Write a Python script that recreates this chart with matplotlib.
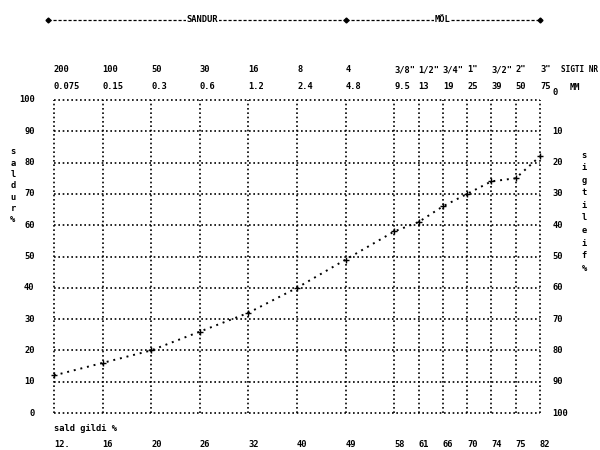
import numpy as np
import matplotlib
matplotlib.use("Agg")
import matplotlib.pyplot as plt
import matplotlib.transforms as mtransforms

# ---- data ----
sieve_nr = ["200", "100", "50", "30", "16", "8", "4",
            '3/8"', '1/2"', '3/4"', '1"', '3/2"', '2"', '3"']
sieve_mm = ["0.075", "0.15", "0.3", "0.6", "1.2", "2.4", "4.8",
            "9.5", "13", "19", "25", "39", "50", "75"]
passing = [12, 16, 20, 26, 32, 40, 49, 58, 61, 66, 70, 74, 75, 82]
bottom_labels = ["12.", "16", "20", "26", "32", "40", "49",
                 "58", "61", "66", "70", "74", "75", "82"]
left_ticks = [0, 10, 20, 30, 40, 50, 60, 70, 80, 90, 100]

FONT = "DejaVu Sans Mono"
FS = 6.3
plt.rcParams['font.family'] = FONT

# column positions: sand sieves spaced 2 units, gravel sieves 1 unit
xpos = np.concatenate([np.arange(0, 16, 2), np.arange(15, 21)])

fig = plt.figure(figsize=(6, 4.5), dpi=100)
ax = fig.add_axes([54/600, 1-413/450, 486/600, 313/450])
ax.set_xlim(0, 20)
ax.set_ylim(0, 100)
ax.axis("off")

dot = (0, (1.0, 1.6))
for x in xpos:
    ax.plot([x, x], [0, 100], color="k", lw=1.2, ls=dot, clip_on=False)
for y in left_ticks:
    ax.plot([0, 20], [y, y], color="k", lw=1.2, ls=dot, clip_on=False)

# curve
ax.plot(xpos, passing, color="k", lw=1.4, ls=(0, (1, 2.5)), clip_on=False)
ax.plot(xpos, passing, "+", color="k", ms=4, mew=1.0, clip_on=False)

bt = mtransforms.blended_transform_factory(ax.transData, ax.transAxes)
tk = dict(fontsize=FS, fontweight="bold", color="k", family=FONT)

# top labels
for x, n, m in zip(xpos, sieve_nr, sieve_mm):
    ax.text(x, 1.096, n, transform=bt, ha="left", va="center", **tk)
    ax.text(x, 1.042, m, transform=bt, ha="left", va="center", **tk)
fig.text(561/600, 1-70/450, "SIGTI NR", ha="left", va="center",
         fontsize=5.6, fontweight="bold", family=FONT)
fig.text(570/600, 1-87/450, "MM", ha="left", va="center", **tk)

# bottom labels
for x, s in zip(xpos, bottom_labels):
    ax.text(x, -0.102, s, transform=bt, ha="left", va="center", **tk)
ax.text(0, -0.048, "sald gildi %", transform=bt, ha="left", va="center", **tk)

# left ticks
for y in left_ticks:
    ax.text(-0.8, y, str(y), ha="right", va="center", **tk)
# right ticks (retained)
for y in left_ticks:
    yy = y if y < 100 else 102.5
    ax.text(20.5, yy, str(100 - y), ha="left", va="center", **tk)

# vertical axis titles (stacked letters)
for i, ch in enumerate("saldur%"):
    fig.text(13/600, 1-(152 + i*11.3)/450, ch, ha="center", va="center", **tk)
for i, ch in enumerate("sigtileif%"):
    fig.text(584/600, 1-(155 + i*12.6)/450, ch, ha="center", va="center", **tk)

# top banner: SANDUR / MOL
by = 1.256
ax.plot([-0.25, 12], [by, by], transform=bt, color="k", lw=0.9,
        ls=(0, (2.5, 1.5)), clip_on=False)
ax.plot([12, 20], [by, by], transform=bt, color="k", lw=0.9,
        ls=(0, (2.5, 1.5)), clip_on=False)
for x in [-0.25, 12, 20]:
    ax.plot([x], [by], transform=bt, marker="D", color="k", ms=2.5, clip_on=False)
ax.text(6.1, by, "SANDUR", transform=bt, ha="center", va="center",
        fontsize=FS, fontweight="bold", family=FONT,
        bbox=dict(facecolor="white", edgecolor="none", pad=0.5))
ax.text(16.0, by, "MÖL", transform=bt, ha="center", va="center",
        fontsize=FS, fontweight="bold", family=FONT,
        bbox=dict(facecolor="white", edgecolor="none", pad=0.5))

fig.savefig("out.png", dpi=100, facecolor="white")
